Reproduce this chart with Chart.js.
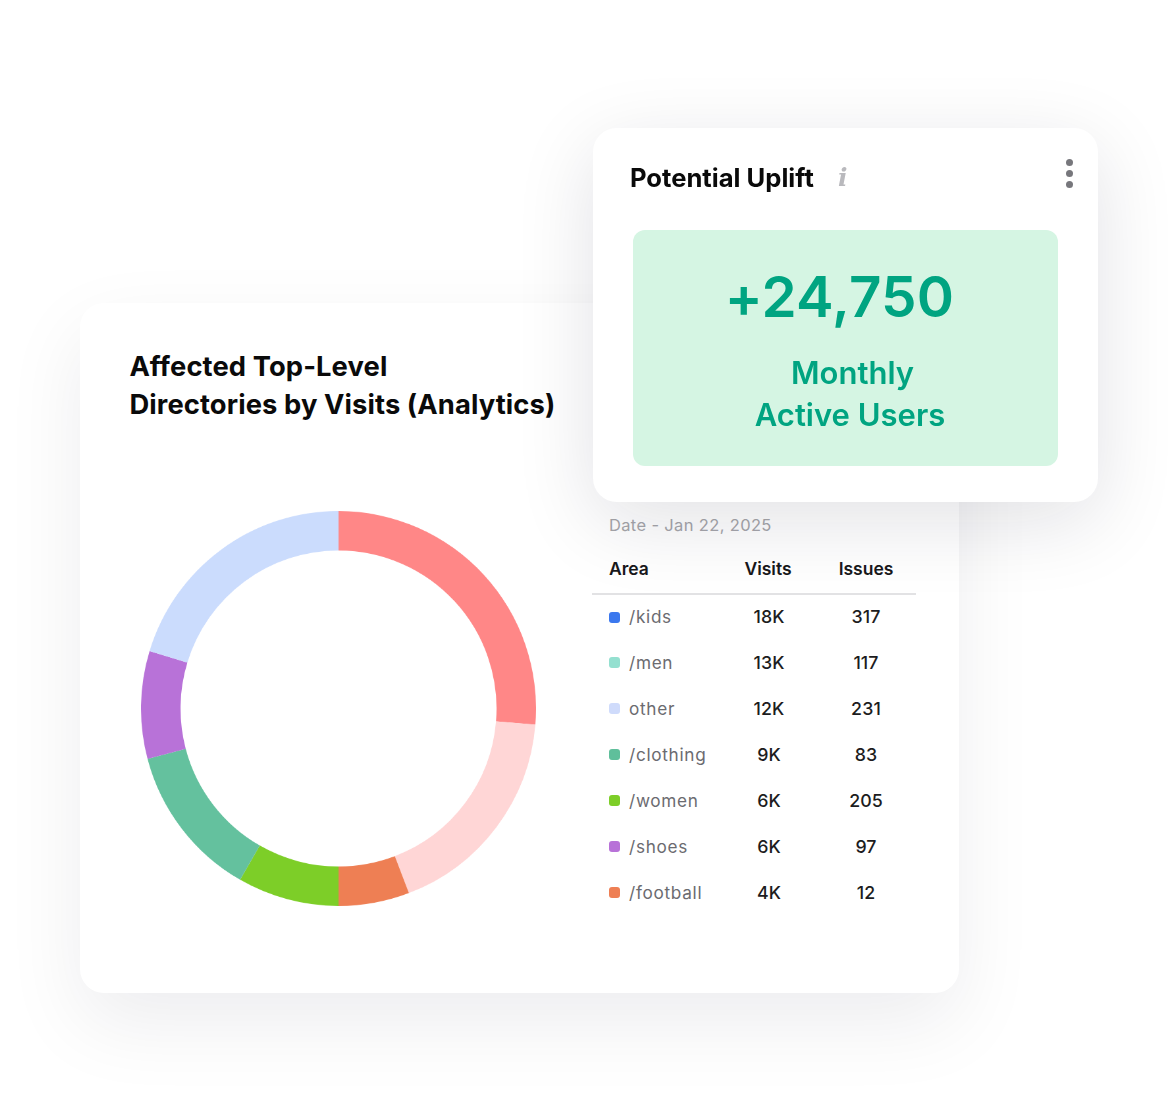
<!DOCTYPE html>
<html><head><meta charset="utf-8">
<style>
html,body{margin:0;padding:0;background:#fff;width:1174px;height:1114px;overflow:hidden;font-family:Inter,"Noto Sans",sans-serif;}
.abs{position:absolute;white-space:nowrap;}
#main{position:absolute;left:80px;top:303px;width:879px;height:690px;background:#fff;border-radius:24px;box-shadow:0 30px 80px rgba(20,20,40,.075);}
#top{position:absolute;left:593px;top:128px;width:505px;height:374px;background:#fff;border-radius:24px;box-shadow:0 20px 80px rgba(20,20,40,.12);}
#green{position:absolute;left:633px;top:230px;width:425px;height:236px;background:#D5F5E3;border-radius:12px;}
canvas{position:absolute;left:141px;top:510.5px;}
.c{transform:translateX(-50%);}
.sw{position:absolute;left:609px;width:11px;height:11px;border-radius:3px;}
.row{font-size:17.2px;color:#6b6b70;letter-spacing:.7px;}
.num{font-size:17.8px;font-weight:500;color:#1c1c20;letter-spacing:.1px;}
.hd{font-size:17.5px;font-weight:600;color:#18181b;}
</style></head><body>
<div id="main"></div>
<div class="abs" style="left:129.5px;top:348px;font-size:27.35px;font-weight:700;line-height:37.5px;color:#0a0a0a;letter-spacing:.1px">Affected Top-Level<br>Directories by Visits (Analytics)</div>
<canvas id="donut"></canvas>
<div class="abs" style="left:609px;top:515px;font-size:16.5px;color:#a6a6aa;letter-spacing:.35px">Date - Jan 22, 2025</div>
<div id="table"></div>
<div class="abs" style="left:592px;top:593px;width:324px;height:1.5px;background:#e2e2e4"></div>
<div id="top"></div>
<div class="abs" style="left:630px;top:161.5px;font-size:25.6px;font-weight:700;color:#0a0a0a">Potential Uplift</div>
<div class="abs" style="left:838px;top:163px;font-family:'DejaVu Serif',serif;font-style:italic;font-weight:700;font-size:25px;color:#b9b9bd">i</div>
<div class="abs" style="left:1066px;top:159px;width:7px;height:7px;border-radius:50%;background:#77777c"></div>
<div class="abs" style="left:1066px;top:170px;width:7px;height:7px;border-radius:50%;background:#77777c"></div>
<div class="abs" style="left:1066px;top:181px;width:7px;height:7px;border-radius:50%;background:#77777c"></div>
<div id="green"></div>
<div class="abs c" style="left:839.5px;top:261.5px;font-size:56.5px;font-weight:600;color:#00A481;letter-spacing:.2px">+24,750</div>
<div class="abs c" style="left:852.5px;top:354px;font-size:31px;font-weight:600;color:#00A481">Monthly</div>
<div class="abs c" style="left:850px;top:396px;font-size:31px;font-weight:600;color:#00A481">Active Users</div>
<script src="https://cdn.jsdelivr.net/npm/chart.js@4"></script>
<script>
const sliceLabels=["/kids","/men","/football","/women","/clothing","/shoes","other"];
const sliceShares=[26.3,17.9,5.8,8.3,12.6,8.8,20.3];
const sliceColors=["#FF8787","#FFD6D6","#EE7F54","#7DCE28","#64C19E","#B872D8","#CBDCFD"];
const areas=["/kids","/men","other","/clothing","/women","/shoes","/football"];
const visits=["18K","13K","12K","9K","6K","6K","4K"];
const issues=["317","117","231","83","205","97","12"];
const swatches=["#3B78EE","#94E0D0","#CFDBFB","#5FBF9B","#7DCE28","#B872D8","#EE7F54"];
const headers=["Area","Visits","Issues"];

const t=document.getElementById('table');
function add(cls,style,txt){const d=document.createElement('div');d.className=cls;d.style.cssText=style;d.textContent=txt;t.appendChild(d);}
add('abs hd','left:609px;top:557.5px',headers[0]);
add('abs hd c','left:768px;top:557.5px',headers[1]);
add('abs hd c','left:866px;top:557.5px',headers[2]);
areas.forEach((a,i)=>{
  const y=617+i*45.9;
  add('sw','top:'+(y-5.5)+'px;background:'+swatches[i],'');
  add('abs row','left:629px;top:'+(y-10.7)+'px',a);
  add('abs num c','left:769px;top:'+(y-10.7)+'px',visits[i]);
  add('abs num c','left:866px;top:'+(y-10.7)+'px',issues[i]);
});

const cv=document.getElementById('donut');
new Chart(cv,{type:'doughnut',
 data:{labels:sliceLabels,datasets:[{data:sliceShares,backgroundColor:sliceColors,borderWidth:0}]},
 options:{responsive:false,animation:false,devicePixelRatio:2,cutout:'80%',layout:{padding:0},
  plugins:{legend:{display:false},tooltip:{enabled:false},title:{display:false}}}});
cv.style.width='395px';cv.style.height='395px';
</script>
</body></html>
